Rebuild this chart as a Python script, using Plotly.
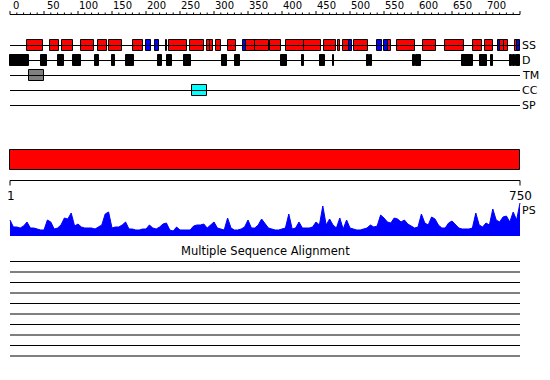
import plotly.graph_objects as go

# ---------------- data ----------------
SEQ_LEN = 750
ruler_labels = [0, 50, 100, 150, 200, 250, 300, 350, 400, 450, 500, 550, 600, 650, 700]
row_names = ["SS", "D", "TM", "CC", "SP"]

helix_start = [25, 59, 77, 105, 130, 145, 181, 229.5, 234, 265, 289, 294, 303, 321, 347, 361,
               383, 406, 432, 462, 483, 489, 506, 556, 569, 608, 640, 681, 699, 721, 726, 742]
helix_end = [49, 72, 93, 123, 143, 164, 195, 231.5, 260, 286, 294, 298, 311, 333, 361, 381,
             398, 432, 457, 479, 486, 499, 526, 560, 595, 626, 667, 694, 710, 726, 732, 745]
strand_start = [200, 212.5, 342, 499, 540, 550.5, 717, 745]
strand_end = [207, 219, 347, 502.5, 547, 556, 721, 750]

disorder_start = [0, 45.5, 70.5, 92.5, 125, 149.5, 170.5, 217, 230.5, 256, 312, 330.5, 398, 429,
                  456, 474.5, 525, 530, 593, 596.5, 600.5, 665, 691, 708, 736, 739.5, 744]
disorder_end = [28, 54, 79.5, 104, 131, 154.5, 182.5, 223.5, 238, 266, 319, 338, 407, 432,
                463, 476, 527.5, 532, 595.5, 599.5, 604, 681, 701, 710, 738.5, 742.5, 750]

tm_start = [28.5]
tm_end = [50.5]
cc_start = [268]
cc_end = [289]

ps_positions = list(range(0, 751, 5))
ps_scores = [
    16, 9, 9, 8, 10, 14, 8, 8, 7, 6,
    6, 16, 14, 7, 8, 11, 18, 17, 23, 10,
    12, 9, 8, 8, 8, 7, 9, 11, 22, 24,
    8, 9, 9, 11, 14, 7, 7, 6, 6, 7,
    7, 11, 8, 7, 9, 12, 13, 6, 5, 9,
    6, 6, 6, 6, 10, 11, 11, 12, 8, 11,
    14, 8, 7, 6, 18, 8, 6, 6, 7, 9,
    16, 8, 8, 11, 17, 13, 8, 7, 6, 6,
    7, 8, 22, 7, 8, 14, 8, 8, 8, 9,
    14, 11, 30, 11, 17, 11, 8, 18, 7, 16,
    8, 7, 6, 6, 7, 8, 11, 9, 10, 21,
    18, 14, 13, 18, 17, 14, 16, 12, 10, 8,
    9, 22, 13, 11, 19, 17, 11, 8, 8, 13,
    15, 11, 8, 7, 7, 7, 8, 23, 11, 9,
    13, 11, 27, 16, 14, 19, 20, 14, 24, 16,
    33,
]
msa_title = "Multiple Sequence Alignment"
msa_count = 10

# ---------------- layout constants (pixels) ----------------
W, H = 550, 380
X0 = 10.0
PPR = 0.68  # pixels per residue
row_y = [45.5, 60.5, 75.5, 90.5, 105.5]
BOX_H = 11
RULER_Y = 14.5
BAR_Y, BAR_H = 160, 20
BRULER_Y = 180.5
PS_BASE, PS_TOP = 236, 203
MSA_Y0, MSA_DY = 261.5, 10.5
FONT = "DejaVu Sans"

fig = go.Figure()

def line(xs, ys, color="black", width=1):
    fig.add_trace(go.Scatter(x=xs, y=ys, mode="lines", line=dict(color=color, width=width),
                             hoverinfo="skip", showlegend=False))

def boxes(starts, ends, y, color):
    fig.add_trace(go.Bar(orientation="h", y=[y] * len(starts), base=starts,
                         x=[e - s for s, e in zip(starts, ends)], width=BOX_H,
                         marker=dict(color=color, line=dict(color="black", width=1)),
                         hoverinfo="skip", showlegend=False))

# top ruler
line([0, SEQ_LEN], [RULER_Y, RULER_Y])
tx, ty = [], []
for t in range(0, SEQ_LEN + 1, 10):
    tx += [t, t, None]
    ty += [RULER_Y, RULER_Y - (3.5 if t % 50 == 0 else 2), None]
line(tx, ty)
for v in ruler_labels:
    fig.add_annotation(x=v, y=5.5, text=str(v), showarrow=False, xanchor="left", yanchor="middle",
                       xshift=(1 if v < 100 else -1), font=dict(family=FONT, size=10, color="black"))

# feature rows
for name, y in zip(row_names, row_y):
    line([0, SEQ_LEN], [y, y])
    fig.add_annotation(x=SEQ_LEN, y=y, text=name, showarrow=False, xanchor="left", yanchor="middle",
                       xshift=0, font=dict(family=FONT, size=11, color="black"))

boxes(helix_start, helix_end, row_y[0], "#ff0000")
boxes(strand_start, strand_end, row_y[0], "#0000ff")
boxes(disorder_start, disorder_end, row_y[1], "#000000")
boxes(tm_start, tm_end, row_y[2], "#808080")
boxes(cc_start, cc_end, row_y[3], "#00ffff")

# red domain bar
fig.add_trace(go.Bar(orientation="h", y=[BAR_Y], base=[0], x=[SEQ_LEN], width=BAR_H,
                     marker=dict(color="#ff0000", line=dict(color="black", width=1)),
                     hoverinfo="skip", showlegend=False))

# bottom ruler
line([0, 0, None, 0, SEQ_LEN, None, SEQ_LEN, SEQ_LEN],
     [BRULER_Y + 5, BRULER_Y, None, BRULER_Y, BRULER_Y, None, BRULER_Y, BRULER_Y + 5])
fig.add_annotation(x=0, y=195.5, text="1", showarrow=False, xanchor="center", yanchor="middle",
                   xshift=1, font=dict(family=FONT, size=12, color="black"))
fig.add_annotation(x=SEQ_LEN, y=195.5, text=str(SEQ_LEN), showarrow=False, xanchor="center",
                   yanchor="middle", font=dict(family=FONT, size=12, color="black"))

# PS profile
fig.add_trace(go.Scatter(x=ps_positions, y=ps_scores, mode="lines", fill="tozeroy",
                         fillcolor="#0000ff", line=dict(color="#0000ff", width=1),
                         xaxis="x", yaxis="y2", hoverinfo="skip", showlegend=False))
fig.add_annotation(x=SEQ_LEN, y=210, text="PS", showarrow=False, xanchor="left", yanchor="middle",
                   font=dict(family=FONT, size=11, color="black"))

# MSA
fig.add_annotation(x=SEQ_LEN / 2, y=251, text=msa_title, showarrow=False, xanchor="center",
                   yanchor="middle", font=dict(family=FONT, size=11.5, color="black"))
mx, my = [], []
for i in range(msa_count):
    yy = MSA_Y0 + i * MSA_DY
    mx += [0, SEQ_LEN, None]
    my += [yy, yy, None]
line(mx, my)

fig.update_layout(
    width=W, height=H, margin=dict(l=0, r=0, t=0, b=0),
    paper_bgcolor="white", plot_bgcolor="white", barmode="overlay", bargap=0,
    xaxis=dict(range=[-X0 / PPR, (W - X0) / PPR], visible=False, domain=[0, 1], fixedrange=True),
    yaxis=dict(range=[H, 0], visible=False, domain=[0, 1], fixedrange=True),
    yaxis2=dict(range=[0, PS_BASE - PS_TOP], visible=False, anchor="x",
                domain=[(H - PS_BASE) / H, (H - PS_TOP) / H], fixedrange=True),
    showlegend=False,
)
fig.write_html("out.html", config={"displayModeBar": False})
